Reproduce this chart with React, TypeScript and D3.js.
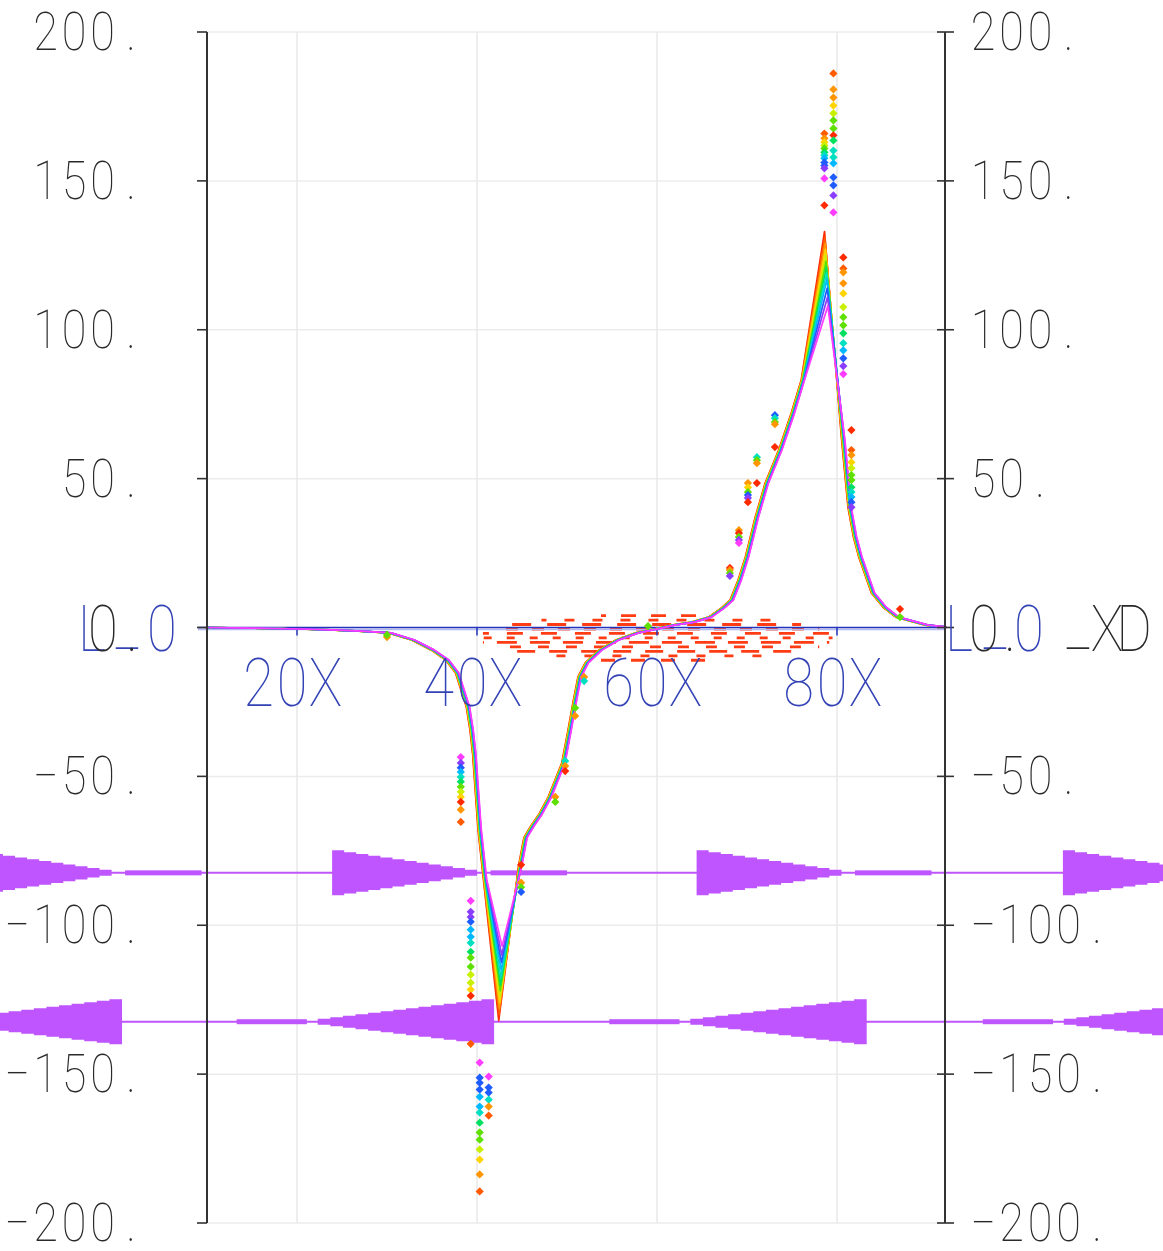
import React from "react";
import * as d3 from "d3";

const W = 1163;
const H = 1251;

// ---------- axes / ticks ----------
const xDomain = [10, 92];
const yDomain = [-200, 200];
const yTicks = [200, 150, 100, 50, -50, -100, -150, -200];
const yTickLabels = ["200.", "150.", "100.", "50.", "\u221250.", "\u2212100.", "\u2212150.", "\u2212200."];
const xTicks = [20, 40, 60, 80];
const xTickLabels = ["20X", "40X", "60X", "80X"];

// ---------- curve series (12 nearly identical traces) ----------
const seriesColors = ["#ff2a00", "#ff5a00", "#ff9500", "#ffd400", "#c8f000", "#5ee000", "#00e060", "#00e0c0", "#00b8ff", "#1f5cff", "#8a3cff", "#ff3cff"];
const peakValues = [133, 131, 129, 127, 125, 123, 121, 119, 117, 114, 111, 108];
const troughValues = [-132, -130, -128, -126, -124, -122, -120, -117.5, -115, -112.5, -110, -107];
// shared trace; null marks the trough / peak that differ per series
const curveX = [10, 14.8, 20.3, 23.7, 27, 30.3, 32.9, 35.1, 36.7, 37.8, 38.4, 39.0, 39.4, 39.7, 39.9, 40.3, 40.9, 42.6, 44.8, 45.4, 46.2, 47, 48.1, 49.6, 50.3, 50.9, 51.4, 52.2, 53.7, 55.6, 57.8, 60.3, 61.8, 64, 65.9, 67.3, 68.3, 69.2, 70, 71.1, 72.2, 73.7, 75.1, 76.2, 78.8, 80.7, 81.4, 82.0, 82.6, 84, 85.3, 86.7, 90, 92];
const curveY: (number | null)[] = [0, -0.2, -0.5, -0.8, -1.2, -1.8, -4.2, -7.6, -10.9, -15.3, -21, -26.7, -34.4, -42.5, -51.2, -68, -84.7, null, -80, -70.5, -66.5, -63, -56.9, -45.5, -34.4, -24.3, -16.6, -11.9, -7.6, -4.2, -1.8, -0.2, 0.8, 1.8, 3.5, 6.5, 9.2, 16, 23.7, 37.1, 48.5, 59.6, 72, 83, null, 62.9, 40.4, 30.5, 23.7, 11.6, 6.8, 3.5, 0.8, 0.2];
const troughIndex = 17;
const peakIndex = 44;

// ---------- scatter clusters (diamonds) ----------
const clusterX = [38.2, 39.3, 40.3, 41.3, 44.9, 48.7, 49.8, 50.9, 51.9, 30, 59, 78.6, 79.6, 80.7, 81.6, 73.1, 71.1, 70.1, 69.1, 68.1, 87];
const clusterY = [
  [-43.5, -45.5, -47.1, -48.5, -50.2, -51.8, -53.5, -55.2, -56.9, -58.6, -61.2, -65.3],
  [-91.8, -95.5, -97.2, -98.8, -101.5, -103.9, -105.9, -108.9, -110.9, -113.9, -116.6, -119.3, -121.6, -123.7, -139.8],
  [-146.1, -151.2, -152.9, -155.2, -157.6, -160.9, -162.9, -166.3, -169.6, -172, -175.3, -178.7, -183.7, -189.4],
  [-150.8, -154.5, -156.2, -158.6, -160.9, -163.9],
  [-79.7, -85.7, -87.2, -88.8],
  [-56.9, -58.6],
  [-44.8, -46.5, -48.2],
  [-27, -29.7],
  [-16.6, -18],
  [-3.2, -2.5],
  [0.5],
  [165.9, 164.3, 163, 161.9, 160.9, 159.6, 158.6, 157.6, 156.2, 155.2, 154.2, 150.8, 141.8],
  [186.1, 180.7, 178, 175.3, 172.7, 170.3, 167.6, 165.3, 163.6, 160.2, 157.9, 155.9, 151.2, 148.5, 145.1, 139.4],
  [124.3, 120.6, 119.3, 115.6, 112.2, 107.6, 104.2, 101.5, 98.8, 95.5, 93.1, 90.4, 87.8, 85.1],
  [66.3, 59.6, 57.9, 55.5, 53.5, 51.2, 49.5, 47.1, 45.5, 43.8, 42.1, 40.4],
  [71.3, 70.3, 69, 68.3, 60.6],
  [57.2, 56.2, 55.2, 48.5],
  [48.5, 47.1, 45.5, 44.5, 43.5, 42.1],
  [32.7, 31.7, 30.4, 29.4, 28.4],
  [20, 19.3, 18.3, 17.3],
  [6.2, 3.5],
];
const clusterC = [
  [11, 10, 9, 8, 7, 6, 5, 4, 3, 0, 2, 1],
  [11, 10, 10, 9, 8, 8, 7, 6, 5, 5, 4, 4, 3, 0, 1],
  [11, 9, 9, 9, 8, 8, 7, 6, 5, 5, 4, 3, 2, 1],
  [11, 9, 9, 7, 2, 1],
  [0, 2, 5, 9],
  [2, 5],
  [7, 2, 0],
  [5, 2],
  [2, 7],
  [2, 5],
  [5],
  [1, 2, 3, 4, 5, 6, 7, 8, 9, 9, 10, 11, 0],
  [1, 2, 2, 3, 4, 5, 5, 0, 6, 7, 7, 8, 9, 9, 10, 11],
  [0, 1, 2, 2, 3, 4, 5, 5, 6, 7, 8, 9, 10, 11],
  [0, 1, 2, 3, 4, 5, 5, 6, 7, 8, 9, 10],
  [9, 7, 5, 2, 0],
  [7, 5, 2, 0],
  [2, 3, 5, 9, 10, 0],
  [2, 0, 5, 10, 11],
  [0, 2, 5, 10],
  [0, 5],
];

// ---------- red dashed ellipse ----------
const ellipseCx = 59.9;
const ellipseCy = -3.5;
const ellipseRx = 19.6;
const ellipseRy = 7.9;
const ellipseRows = 11;

// ---------- purple tapered bands ----------
const upperBandY = -82.4;
const upperBandWide = [-16.7, 23.9, 64.4, 105.1];
const upperBandLength = 16.1; // tapers to the right
const lowerBandY = -132.4;
const lowerBandWide = [0.56, 41.9, 83.3, 124.8];
const lowerBandLength = 19.6; // tapers to the left
const bandHalf = 7.55;

const FONT = "Roboto, 'DejaVu Sans', sans-serif";
const BLACK = "#2a2a2a";
const BLUE = "#3343b5";
const PURPLE = "#bf55ff";

function Glyphs({ chars, centers, baseline, size, fill, sx, dys }: any) {
  return (
    <g>
      {chars.map((ch: string, i: number) => (
        <text
          key={i}
          transform={`translate(${centers[i]},${baseline + (dys ? dys[i] : 0)}) scale(${sx},1)`}
          textAnchor="middle"
          fontFamily={FONT}
          fontWeight={100}
          fontSize={size}
          fill={fill}
        >
          {ch}
        </text>
      ))}
    </g>
  );
}

export default function App() {
  const left = 207;
  const right = 945;
  const top = 32;
  const bottom = 1223;
  const x = d3.scaleLinear().domain(xDomain).range([left, right]);
  const y = d3.scaleLinear().domain(yDomain).range([bottom, top]);
  const pxPerY = Math.abs(y(1) - y(0));
  const pxPerX = x(1) - x(0);

  const line = d3
    .line<[number, number]>()
    .x((d) => x(d[0]))
    .y((d) => y(d[1]));

  const series = seriesColors.map((c, s) => {
    const pts: [number, number][] = curveX.map((cx, i) => {
      let v = curveY[i];
      if (i === troughIndex) v = troughValues[s];
      if (i === peakIndex) v = peakValues[s];
      return [cx, v as number];
    });
    return { color: c, d: line(pts) as string, dx: (s - 5.5) * 0.3 };
  });

  const diamond = d3.symbol().type(d3.symbolSquare).size(34)() as string;

  // stepped tapered band polygons
  function bandPath(wideX: number, dir: number, len: number, cyv: number, steps: number) {
    const xw = x(wideX);
    const xn = x(wideX + dir * len);
    const cy = y(cyv);
    const hW = bandHalf * pxPerY;
    const hN = 3;
    const topPts: [number, number][] = [];
    const botPts: [number, number][] = [];
    for (let i = 0; i < steps; i++) {
      const a = xw + ((xn - xw) * i) / steps;
      const b = xw + ((xn - xw) * (i + 1)) / steps;
      const h = hW + ((hN - hW) * i) / (steps - 1);
      topPts.push([a, cy - h], [b, cy - h]);
      botPts.push([a, cy + h], [b, cy + h]);
    }
    const all = topPts.concat(botPts.reverse());
    return "M" + all.map((p) => p.join(",")).join("L") + "Z";
  }

  const dashPatterns = ["14 16", "9 19", "18 14", "11 17", "20 13", "8 15", "16 18", "12 14", "19 16", "10 18", "15 15"];

  const yLabelCentersLeft = (n: number) => d3.range(n).map((i) => left - 76 - (n - 1 - i) * 28.5);
  const yLabelCentersRight = (n: number) => d3.range(n).map((i) => right + 38 + i * 28.5);

  return (
    <svg width={W} height={H} style={{ position: "absolute", left: 0, top: 0, background: "#fff" }}>
      <rect width={W} height={H} fill="#fff" />
      {/* grid */}
      {yTicks.map((t) => (
        <line key={"hg" + t} x1={left} x2={right} y1={y(t)} y2={y(t)} stroke="#ececec" strokeWidth={1.5} />
      ))}
      {xTicks.map((t) => (
        <line key={"vg" + t} x1={x(t)} x2={x(t)} y1={top} y2={bottom} stroke="#e9e9e9" strokeWidth={1.5} />
      ))}

      {/* red dashed ellipse */}
      {d3.range(ellipseRows).map((i) => {
        const tt = -0.95 + (1.9 * i) / (ellipseRows - 1);
        const half = ellipseRx * Math.sqrt(1 - tt * tt);
        const yy = y(ellipseCy + tt * ellipseRy);
        return (
          <line
            key={"el" + i}
            x1={x(ellipseCx - half)}
            x2={x(ellipseCx + half)}
            y1={yy}
            y2={yy}
            stroke="#ff3c14"
            strokeWidth={2.8}
            strokeDasharray={dashPatterns[i % dashPatterns.length]}
            strokeDashoffset={i * 13}
          />
        );
      })}

      {/* zero line */}
      <line x1={left - 9} x2={right} y1={y(0) + 2} y2={y(0) + 2} stroke="#b4b8f0" strokeWidth={1.5} />
      <line x1={left - 9} x2={right} y1={y(0)} y2={y(0)} stroke="#2233bb" strokeWidth={1.6} />
      {xTicks.map((t) => (
        <line key={"xt" + t} x1={x(t)} x2={x(t)} y1={y(0)} y2={y(0) + 8} stroke="#2233bb" strokeWidth={1.5} />
      ))}

      {/* purple bands */}
      <line x1={0} x2={W} y1={y(upperBandY)} y2={y(upperBandY)} stroke={PURPLE} strokeWidth={2} />
      <line x1={0} x2={W} y1={y(lowerBandY)} y2={y(lowerBandY)} stroke={PURPLE} strokeWidth={2} />
      {upperBandWide.map((w, i) => (
        <g key={"ub" + i}>
          <path d={bandPath(w, 1, upperBandLength, upperBandY, 12)} fill={PURPLE} />
          <rect
            x={x(w + upperBandLength + 1.5)}
            width={8.5 * pxPerX}
            y={y(upperBandY) - 2.5}
            height={5}
            fill={PURPLE}
          />
        </g>
      ))}
      {lowerBandWide.map((w, i) => (
        <g key={"lb" + i}>
          <path d={bandPath(w, -1, lowerBandLength, lowerBandY, 14)} fill={PURPLE} />
          <rect
            x={x(w - lowerBandLength - 9)}
            width={7.8 * pxPerX}
            y={y(lowerBandY) - 2.5}
            height={5}
            fill={PURPLE}
          />
        </g>
      ))}

      {/* curves */}
      {series.map((s, i) => (
        <path key={"s" + i} d={s.d} transform={`translate(${s.dx},0)`} fill="none" stroke={s.color} strokeWidth={1.7} strokeLinejoin="round" />
      ))}

      {/* scatter */}
      {clusterX.map((cx, k) =>
        clusterY[k].map((vy, j) => (
          <path
            key={"p" + k + "_" + j}
            d={diamond}
            transform={`translate(${x(cx)},${y(vy)}) rotate(45)`}
            fill={seriesColors[clusterC[k][j]]}
          />
        ))
      )}

      {/* axes */}
      <line x1={left} x2={left} y1={top} y2={bottom} stroke="#333" strokeWidth={2} />
      <line x1={right} x2={right} y1={top} y2={bottom} stroke="#333" strokeWidth={2} />
      {yTicks.concat([0]).map((t) => (
        <g key={"yt" + t}>
          <line x1={left - 10} x2={left} y1={y(t)} y2={y(t)} stroke="#333" strokeWidth={1.6} />
          <line x1={right - 8} x2={right + 9} y1={y(t)} y2={y(t)} stroke="#333" strokeWidth={1.6} />
        </g>
      ))}

      {/* y tick labels */}
      {yTicks.map((t, i) => {
        const chars = Array.from(yTickLabels[i]);
        return (
          <g key={"yl" + t}>
            <Glyphs chars={chars} centers={yLabelCentersLeft(chars.length)} baseline={y(t) + 18} size={53} fill={BLACK} sx={0.85} />
            <Glyphs chars={chars} centers={yLabelCentersRight(chars.length)} baseline={y(t) + 18} size={53} fill={BLACK} sx={0.85} />
          </g>
        );
      })}

      {/* x tick labels */}
      {xTicks.map((t, i) => {
        const chars = Array.from(xTickLabels[i]);
        const c0 = x(t) - 5;
        return (
          <Glyphs key={"xl" + t} chars={chars} centers={[c0 - 33.5, c0, c0 + 33.5]} baseline={y(0) + 78} size={66} fill={BLUE} sx={0.85} />
        );
      })}

      {/* zero labels */}
      <Glyphs chars={["L", "_", "0"]} centers={[left - 115, left - 80, left - 45]} baseline={y(0) + 23} size={64} fill={BLUE} sx={0.85} dys={[0, -4, 0]} />
      <Glyphs chars={["0", "."]} centers={[left - 104, left - 75]} baseline={y(0) + 23} size={64} fill={BLACK} sx={0.85} />
      <Glyphs chars={["L", "_", "0"]} centers={[right + 14, right + 50, right + 84]} baseline={y(0) + 23} size={64} fill={BLUE} sx={0.85} dys={[0, -4, 0]} />
      <Glyphs chars={["0", ".", "_", "X", "D"]} centers={[right + 39, right + 65, right + 133, right + 162, right + 189]} baseline={y(0) + 23} size={64} fill={BLACK} sx={0.85} dys={[0, 0, -4, 0, 0]} />
    </svg>
  );
}
